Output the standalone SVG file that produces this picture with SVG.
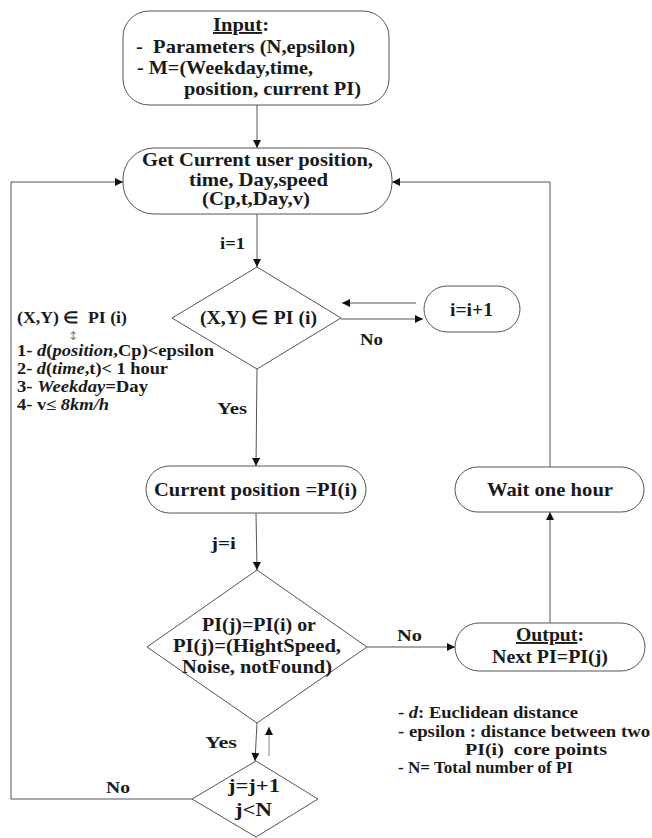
<svg xmlns="http://www.w3.org/2000/svg" width="652" height="838" viewBox="0 0 652 838">
<style>
text{font-family:"Times New Roman","Liberation Serif",serif;font-weight:bold;fill:#1a1a1a}
.n{font-size:19px}
.s{font-size:16px}
.l{font-size:17px}
.shape{fill:#fff;stroke:#555;stroke-width:1}
.c{fill:none;stroke:#555;stroke-width:1}
.g{fill:none;stroke:#999;stroke-width:1.2}
</style>
<defs>
<marker id="ah" viewBox="0 0 10 10" refX="10" refY="5" markerWidth="9" markerHeight="8" markerUnits="userSpaceOnUse" orient="auto">
<path d="M0,0 L10,5 L0,10 z" fill="#111"/>
</marker>
</defs>
<rect width="652" height="838" fill="#fff"/>

<g id="connectors">
<line class="c" x1="257" y1="105" x2="257" y2="148" marker-end="url(#ah)"/>
<line class="c" x1="257" y1="214" x2="257" y2="267" marker-end="url(#ah)"/>
<line class="c" x1="257" y1="369" x2="256" y2="466" marker-end="url(#ah)"/>
<line class="c" x1="256" y1="513" x2="257" y2="570" marker-end="url(#ah)"/>
<line class="c" x1="341" y1="319" x2="423" y2="319" marker-end="url(#ah)"/>
<line class="c" x1="416" y1="303" x2="342" y2="303" marker-end="url(#ah)"/>
<line class="c" x1="367" y1="647" x2="455" y2="647" marker-end="url(#ah)"/>
<line class="c" x1="550" y1="623" x2="550" y2="512" marker-end="url(#ah)"/>
<polyline class="c" points="550,467 550,182 392,182" marker-end="url(#ah)"/>
<line class="c" x1="257" y1="723" x2="255" y2="761" marker-end="url(#ah)"/>
<line class="g" x1="269" y1="756" x2="269" y2="727" marker-end="url(#ah)"/>
<polyline class="c" points="192,799 11,799 11,182 123,182" marker-end="url(#ah)"/>
</g>

<g id="input">
<rect class="shape" x="123" y="11" width="266" height="94" rx="26"/>
<text class="n" x="213" y="31" textLength="56" lengthAdjust="spacingAndGlyphs"><tspan text-decoration="underline">Input</tspan>:</text>
<text class="n" x="136" y="53" textLength="219" lengthAdjust="spacingAndGlyphs" xml:space="preserve">-  Parameters (N,epsilon)</text>
<text class="n" x="137" y="74" textLength="176" lengthAdjust="spacingAndGlyphs">- M=(Weekday,time,</text>
<text class="n" x="184" y="95" textLength="177" lengthAdjust="spacingAndGlyphs">position, current PI)</text>
</g>

<g id="get-current">
<rect class="shape" x="123" y="148" width="269" height="66" rx="31"/>
<text class="n" x="142" y="166" textLength="231" lengthAdjust="spacingAndGlyphs">Get Current user position,</text>
<text class="n" x="189" y="186" textLength="139" lengthAdjust="spacingAndGlyphs">time, Day,speed</text>
<text class="n" x="202" y="205" textLength="108" lengthAdjust="spacingAndGlyphs">(Cp,t,Day,v)</text>
</g>

<g id="decision-xy">
<polygon class="shape" points="257,267 341,318 257,369 172,318"/>
<text class="n" x="200" y="324" textLength="117" lengthAdjust="spacingAndGlyphs">(X,Y) ∈ PI (i)</text>
</g>

<g id="increment-i">
<rect class="shape" x="424" y="286" width="96" height="46" rx="23"/>
<text class="n" x="450" y="316" textLength="43" lengthAdjust="spacingAndGlyphs">i=i+1</text>
</g>

<g id="current-position">
<rect class="shape" x="146" y="466" width="220" height="47" rx="23.5"/>
<text class="n" x="154" y="496" textLength="203" lengthAdjust="spacingAndGlyphs">Current position =PI(i)</text>
</g>

<g id="wait">
<rect class="shape" x="455" y="467" width="189" height="45" rx="22.5"/>
<text class="n" x="487" y="496" textLength="126" lengthAdjust="spacingAndGlyphs">Wait one hour</text>
</g>

<g id="decision-pi">
<polygon class="shape" points="257,570 367,647 257,723 147,647"/>
<text class="n" x="202" y="631" textLength="114" lengthAdjust="spacingAndGlyphs">PI(j)=PI(i) or</text>
<text class="n" x="173" y="652" textLength="168" lengthAdjust="spacingAndGlyphs">PI(j)=(HightSpeed,</text>
<text class="n" x="182" y="673" textLength="150" lengthAdjust="spacingAndGlyphs">Noise, notFound)</text>
</g>

<g id="output">
<rect class="shape" x="455" y="623" width="190" height="48" rx="24"/>
<text class="n" x="516" y="641" textLength="68" lengthAdjust="spacingAndGlyphs"><tspan text-decoration="underline">Output</tspan>:</text>
<text class="n" x="492" y="663" textLength="116" lengthAdjust="spacingAndGlyphs">Next PI=PI(j)</text>
</g>

<g id="decision-j">
<polygon class="shape" points="256,761 318,799 256,837 192,799"/>
<text class="n" x="228" y="792" textLength="52" lengthAdjust="spacingAndGlyphs">j=j+1</text>
<text class="n" x="235" y="816" textLength="37" lengthAdjust="spacingAndGlyphs">j&lt;N</text>
</g>

<g id="labels">
<text class="l" x="220" y="249" textLength="25" lengthAdjust="spacingAndGlyphs">i=1</text>
<text class="l" x="360" y="345" textLength="23" lengthAdjust="spacingAndGlyphs">No</text>
<text class="l" x="217" y="414" textLength="30" lengthAdjust="spacingAndGlyphs">Yes</text>
<text class="l" x="211" y="549" textLength="25" lengthAdjust="spacingAndGlyphs">j=i</text>
<text class="l" x="397" y="641" textLength="25" lengthAdjust="spacingAndGlyphs">No</text>
<text class="l" x="205" y="748" textLength="32" lengthAdjust="spacingAndGlyphs">Yes</text>
<text class="l" x="106" y="793" textLength="24" lengthAdjust="spacingAndGlyphs">No</text>
</g>

<g id="conditions">
<text class="s" x="17" y="323" textLength="110" lengthAdjust="spacingAndGlyphs" xml:space="preserve">(X,Y) ∈  PI (i)</text>
<text x="68" y="340" style="font-size:12px;font-weight:normal;fill:#777;font-family:'DejaVu Sans',sans-serif">↕</text>
<text class="s" x="17" y="356" textLength="197" lengthAdjust="spacingAndGlyphs">1- <tspan font-style="italic">d</tspan>(<tspan font-style="italic">position</tspan>,Cp)&lt;epsilon</text>
<text class="s" x="17" y="374" textLength="151" lengthAdjust="spacingAndGlyphs">2- <tspan font-style="italic">d</tspan>(<tspan font-style="italic">time</tspan>,t)&lt; 1 hour</text>
<text class="s" x="17" y="392" textLength="131" lengthAdjust="spacingAndGlyphs">3- <tspan font-style="italic">Weekday</tspan>=Day</text>
<text class="s" x="17" y="410" textLength="92" lengthAdjust="spacingAndGlyphs">4- v≤ <tspan font-style="italic">8km/h</tspan></text>
</g>

<g id="legend">
<text class="s" x="398" y="718" textLength="180" lengthAdjust="spacingAndGlyphs">- <tspan font-style="italic">d</tspan>: Euclidean distance</text>
<text class="s" x="398" y="737" textLength="252" lengthAdjust="spacingAndGlyphs">- epsilon : distance between two</text>
<text class="s" x="465" y="755" textLength="142" lengthAdjust="spacingAndGlyphs" xml:space="preserve">PI(i)  core points</text>
<text class="s" x="398" y="773" textLength="175" lengthAdjust="spacingAndGlyphs">- N= Total number of PI</text>
</g>
</svg>
